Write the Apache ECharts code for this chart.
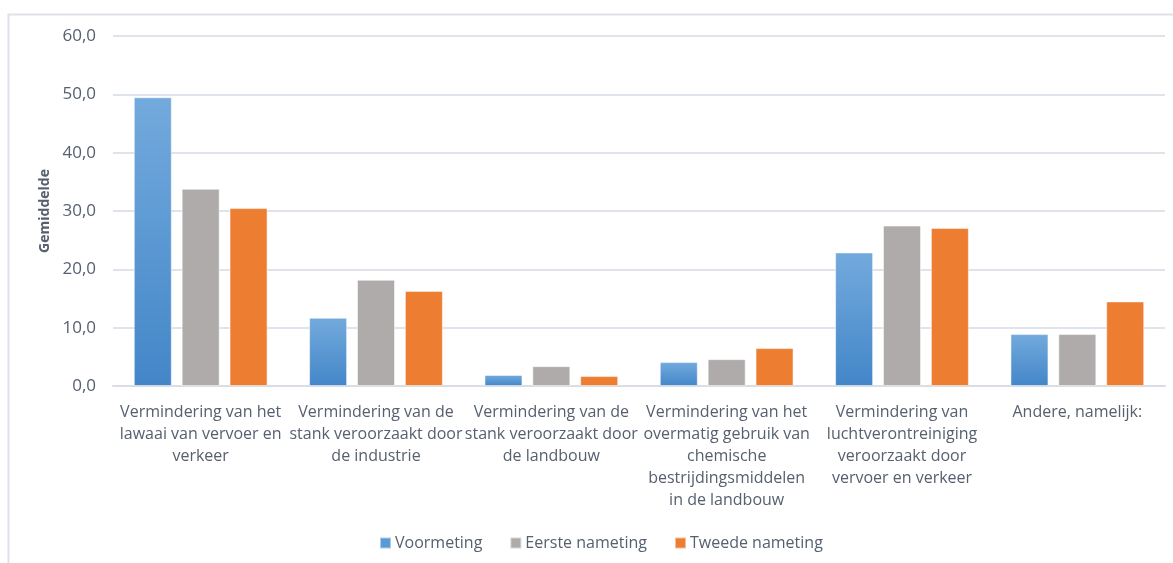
<!DOCTYPE html>
<html><head><meta charset="utf-8">
<script src="https://cdn.jsdelivr.net/npm/echarts@6/dist/echarts.min.js"></script>
<style>html,body{margin:0;padding:0;background:#fff}#c{width:1173px;height:563px}</style>
</head><body><div id="c"></div>
<script>
const categories = [
  "Vermindering van het\nlawaai van vervoer en\nverkeer",
  "Vermindering van de\nstank veroorzaakt door\nde industrie",
  "Vermindering van de\nstank veroorzaakt door\nde landbouw",
  "Vermindering van het\novermatig gebruik van\nchemische\nbestrijdingsmiddelen\nin de landbouw",
  "Vermindering van\nluchtverontreiniging\nveroorzaakt door\nvervoer en verkeer",
  "Andere, namelijk:"
];
const seriesNames = ["Voormeting", "Eerste nameting", "Tweede nameting"];
const voormeting = [49.5, 11.7, 1.9, 4.1, 22.9, 8.9];
const eersteNameting = [33.8, 18.2, 3.4, 4.6, 27.5, 8.9];
const tweedeNameting = [30.5, 16.3, 1.7, 6.5, 27.1, 14.5];
const yTicks = [0, 10, 20, 30, 40, 50, 60];

const txt = '#56606f';
const font = 'Open Sans';
const chart = echarts.init(document.getElementById('c'));
const blueGrad = new echarts.graphic.LinearGradient(0, 0, 0, 1, [
  {offset: 0, color: '#73aadd'}, {offset: 1, color: '#4386c8'}]);
const barBase = {type: 'bar', barWidth: 38, barGap: '26%', itemStyle: {borderColor: 'rgba(255,255,255,0.5)', borderWidth: 1}};
chart.setOption({
  animation: false,
  textStyle: {fontFamily: font},
  graphic: [{type: 'rect', shape: {x: 8.5, y: 14.5, width: 1180, height: 560},
    style: {fill: 'none', stroke: '#dde2e8', lineWidth: 2}, silent: true}],
  grid: {left: 113, right: 8, top: 36, bottom: 177},
  legend: {
    top: 530, left: 374, itemWidth: 11, itemHeight: 11, itemGap: 27,
    icon: 'rect',
    textStyle: {color: txt, fontSize: 16, fontFamily: font, padding: [0, 0, 0, -1]},
    data: [
      {name: seriesNames[0], itemStyle: {color: '#5b9bd5'}},
      {name: seriesNames[1]},
      {name: seriesNames[2]}
    ]
  },
  xAxis: {
    type: 'category', data: categories,
    axisLine: {lineStyle: {color: '#d9dee5', width: 2}},
    axisTick: {show: false},
    axisLabel: {interval: 0, color: txt, fontSize: 16, lineHeight: 22, margin: 15, fontFamily: font}
  },
  yAxis: {
    type: 'value', min: 0, max: 60, interval: 10,
    name: 'Gemiddelde', nameLocation: 'middle', nameGap: 60,
    nameTextStyle: {color: txt, fontSize: 14, fontWeight: 'bold', fontFamily: font},
    axisLabel: {color: txt, fontSize: 17, margin: 17, fontFamily: font,
      formatter: v => yTicks.includes(v) ? v.toFixed(1).replace('.', ',') : ''},
    splitLine: {lineStyle: {color: '#dfe3ea', width: 2}},
    axisLine: {show: false}, axisTick: {show: false}
  },
  series: [
    Object.assign({}, barBase, {name: seriesNames[0], data: voormeting, itemStyle: Object.assign({}, barBase.itemStyle, {color: blueGrad})}),
    Object.assign({}, barBase, {name: seriesNames[1], data: eersteNameting, itemStyle: Object.assign({}, barBase.itemStyle, {color: '#afabab'})}),
    Object.assign({}, barBase, {name: seriesNames[2], data: tweedeNameting, itemStyle: Object.assign({}, barBase.itemStyle, {color: '#ed7d31'})})
  ]
});
</script></body></html>
